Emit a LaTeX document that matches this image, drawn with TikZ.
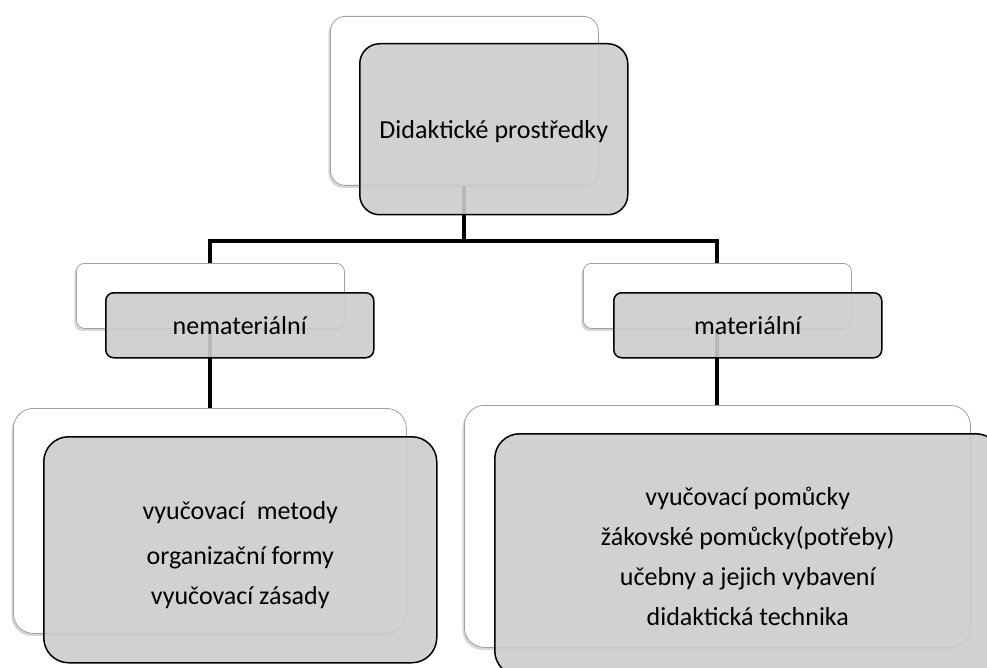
\documentclass[tikz,border=0pt]{standalone}
\usepackage{fontspec}
\setmainfont{Carlito}
\usetikzlibrary{shadows}
\definecolor{boxgray}{RGB}{204,204,204}
\definecolor{edgegray}{RGB}{160,160,160}
\tikzset{
  backbox/.style={draw=edgegray, line width=0.8pt, fill=white, anchor=north west,
    drop shadow={shadow xshift=-2pt, shadow yshift=-2.5pt, opacity=0.22, fill=black!70}},
  frontbox/.style={draw=black, line width=1.5pt, fill=boxgray, fill opacity=0.9, text opacity=1,
    anchor=north west, align=center, font=\fontsize{26}{40}\selectfont, inner sep=0pt},
  conn/.style={draw=black, line width=4.5pt, line join=miter}
}
\begin{document}
\begin{tikzpicture}[x=1pt,y=-1pt]
\clip (0,0) rectangle (987,668);
\fill[white] (0,0) rectangle (987,668);
% coordinates for connectors
\coordinate (twc) at (464,100);
\coordinate (j) at (464,241);
\coordinate (lwc) at (210,295);
\coordinate (rwc) at (717,295);
\coordinate (lbc) at (210,520);
\coordinate (rbc) at (717,520);
\draw[conn] (twc) -- (j);
\draw[conn] (j) -| (lwc);
\draw[conn] (j) -| (rwc);
\draw[conn] (lwc) -- (lbc);
\draw[conn] (rwc) -- (rbc);
% top
\node[backbox, rounded corners=15pt, minimum width=268pt, minimum height=169pt] (tw) at (330,16) {};
\node[frontbox, rounded corners=20pt, minimum width=268pt, minimum height=171pt] (tg) at (359,43)
  {\raisebox{-2pt}[\height][\depth]{Didaktické prostředky}};
% middle left
\node[backbox, rounded corners=8pt, minimum width=268pt, minimum height=65pt] (lw) at (76,263) {};
\node[frontbox, rounded corners=8pt, minimum width=268pt, minimum height=65pt] (lg) at (105,292) {nemateriální};
% middle right
\node[backbox, rounded corners=8pt, minimum width=268pt, minimum height=65pt] (rw) at (583,263) {};
\node[frontbox, rounded corners=8pt, minimum width=268pt, minimum height=65pt] (rg) at (613,292) {materiální};
% bottom left
\node[backbox, rounded corners=20pt, minimum width=393pt, minimum height=225pt] (lbw) at (13,408) {};
\node[frontbox, rounded corners=25pt, minimum width=393pt, minimum height=226pt] (lbg) at (43,436)
  {\raisebox{-5pt}[\height][\depth]{\parbox{300pt}{\centering\fontsize{26}{40}\selectfont vyučovací\ \ metody\\[5pt]organizační formy\\vyučovací zásady}}};
% bottom right
\node[backbox, rounded corners=20pt, minimum width=506pt, minimum height=242pt] (rbw) at (464,405) {};
\node[frontbox, rounded corners=25pt, minimum width=506pt, minimum height=242pt] (rbg) at (494,433)
  {\raisebox{-2pt}[\height][\depth]{\parbox{400pt}{\centering\fontsize{26}{40}\selectfont vyučovací pomůcky\\žákovské pomůcky(potřeby)\\učebny a jejich vybavení\\didaktická technika}}};
\end{tikzpicture}
\end{document}
